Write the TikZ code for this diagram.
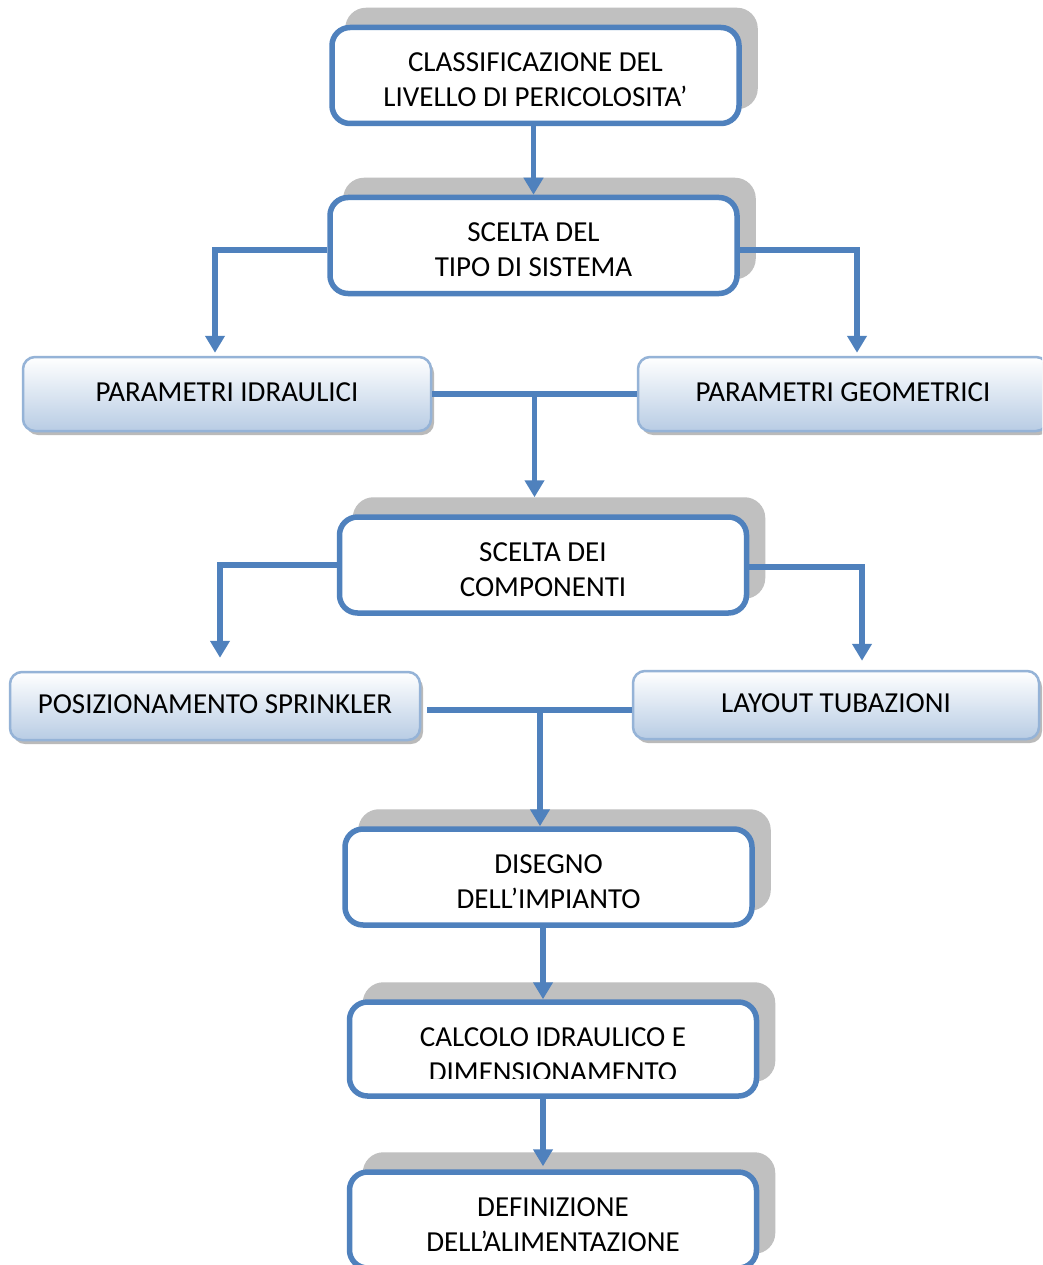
\documentclass[tikz,border=0pt]{standalone}
\usepackage{fontspec}
\setmainfont{Carlito}
\usetikzlibrary{arrows.meta,shadows,calc}
\definecolor{bl}{RGB}{79,129,189}
\definecolor{shd}{RGB}{192,192,192}
\definecolor{lbord}{RGB}{149,179,215}
\definecolor{lfill}{RGB}{184,204,228}
\begin{document}
\begin{tikzpicture}[x=1pt,y=1pt,
  txt/.style={align=center,font=\fontsize{29}{35}\selectfont},
  mainbox/.style={txt,draw=bl,line width=5.5pt,rounded corners=18pt,fill=white,
    minimum width=407pt,minimum height=96pt,text height=63pt,
    general shadow={fill=shd,draw=shd,line width=5.5pt,shadow xshift=16pt,shadow yshift=17pt}},
  lightbox/.style={txt,draw=lbord,line width=2.5pt,rounded corners=12pt,
    top color=white,bottom color=lfill,minimum height=74pt,minimum width=408pt,text depth=4pt,
    general shadow={fill=black!45,opacity=.6,shadow xshift=3pt,shadow yshift=-4pt}},
  conn/.style={draw=bl,line width=5.5pt},
  arr/.style={conn,-{Triangle[width=19pt,length=17pt]}}]
\useasboundingbox (0,0) rectangle (1042,-1265);
\clip (0,0) rectangle (1042,-1265);
\fill[white] (0,0) rectangle (1042,-1265);

\node[mainbox] (b1) at (535.5,-75.5) {CLASSIFICAZIONE DEL\\LIVELLO DI PERICOLOSITA’};
\node[mainbox] (b2) at (533.5,-245.5) {SCELTA DEL\\TIPO DI SISTEMA};
\node[lightbox] (pi) at (227,-394) {PARAMETRI IDRAULICI};
\node[lightbox,minimum width=410pt] (pg) at (843,-394) {PARAMETRI GEOMETRICI};
\node[mainbox] (b3) at (543,-565) {SCELTA DEI\\COMPONENTI};
\node[lightbox,minimum width=410pt,minimum height=68pt] (ps) at (215,-706) {POSIZIONAMENTO SPRINKLER};
\node[lightbox,minimum width=406pt,minimum height=68pt] (lt) at (836,-705) {LAYOUT TUBAZIONI};
\node[mainbox] (b4) at (548.5,-877) {DISEGNO\\DELL’IMPIANTO};
\node[mainbox,minimum height=94pt] (b5) at (553,-1049) {};
\begin{scope}
  \clip (b5.north west) rectangle (b5.east |- 0,-1078);
  \node[txt,text height=63pt] (t5) at (553,-1050.5) {CALCOLO IDRAULICO E\\DIMENSIONAMENTO};
\end{scope}
\node[mainbox] (b6) at (553,-1220) {DEFINIZIONE\\DELL’ALIMENTAZIONE};

\draw[arr] ([xshift=-2pt]b1.south) -- (b2.north);
\draw[arr,shorten >=3pt] ([yshift=-4.5pt]b2.west) -| ([xshift=-12pt]pi.north);
\draw[arr,shorten >=3pt] ([yshift=-4.5pt]b2.east) -| ([xshift=14pt]pg.north);
\draw[conn] (pi.east) -- (pg.west);
\coordinate (m1) at ($(pi.east)!.5!(pg.west)$);
\draw[arr,shorten >=17pt] (m1) -- (m1 |- b3.north);
\draw[arr,shorten >=13pt] (b3.west) -| ([xshift=5pt]ps.north);
\draw[arr,shorten >=9pt] ([yshift=-2pt]b3.east) -| ([xshift=26pt]lt.north);
\coordinate (m2) at (540,-710);
\draw[conn,shorten <=6pt] (ps.east |- m2) -- (lt.west |- m2);
\draw[arr] (m2) -- (m2 |- b4.north);
\draw[arr] ([xshift=-5.5pt]b4.south) -- ([xshift=-10pt]b5.north);
\draw[arr,shorten >=3pt] ([xshift=-10pt]b5.south) -- ([xshift=-10pt]b6.north);
\end{tikzpicture}
\end{document}
